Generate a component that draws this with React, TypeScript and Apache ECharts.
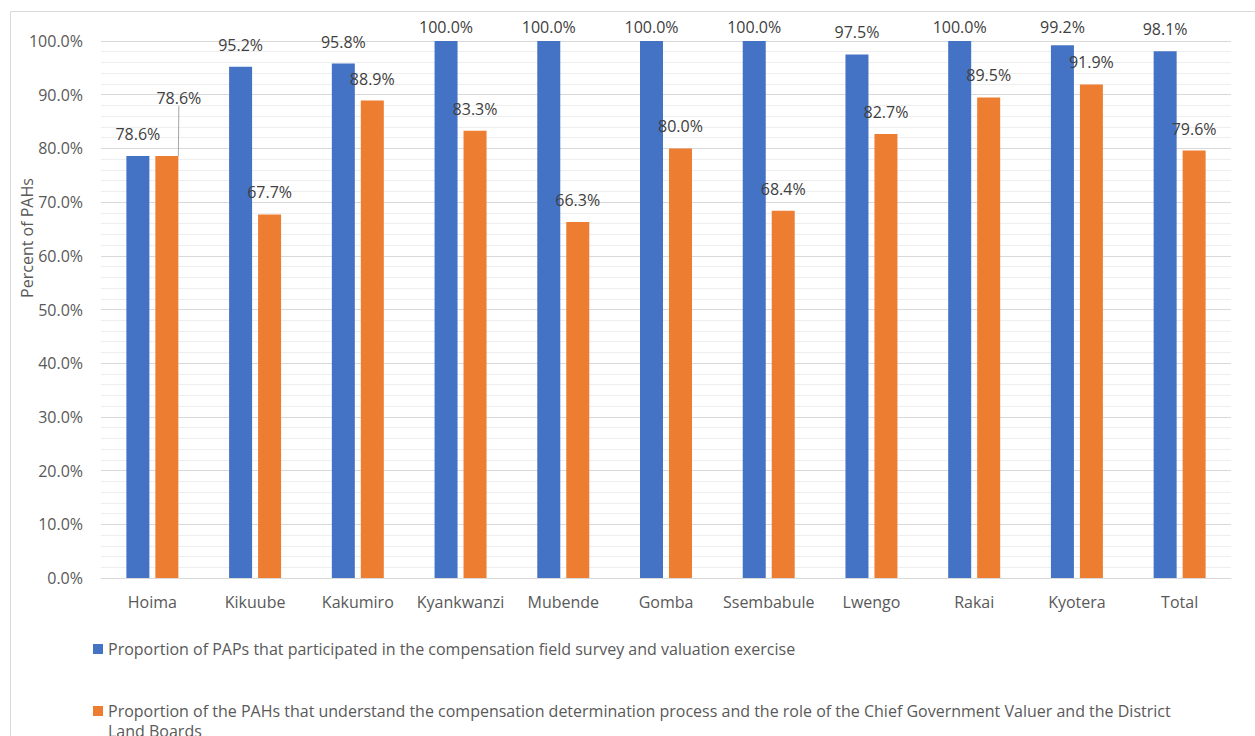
import React, { useEffect, useRef } from "react";
import * as echarts from "echarts";

// District categories along the x axis
const districts = [
  "Hoima",
  "Kikuube",
  "Kakumiro",
  "Kyankwanzi",
  "Mubende",
  "Gomba",
  "Ssembabule",
  "Lwengo",
  "Rakai",
  "Kyotera",
  "Total",
];

// Percent of PAPs that took part in the field survey and valuation exercise
const participated = [78.6, 95.2, 95.8, 100.0, 100.0, 100.0, 100.0, 97.5, 100.0, 99.2, 98.1];

// Percent of PAHs that understand the compensation determination process
const understand = [78.6, 67.7, 88.9, 83.3, 66.3, 80.0, 68.4, 82.7, 89.5, 91.9, 79.6];

const seriesNames = [
  "Proportion of PAPs that participated in the compensation field survey and valuation exercise",
  "Proportion of the PAHs that understand the compensation determination process and the role of the Chief Government Valuer and the District Land Boards",
];

const yTicks = { min: 0, max: 100, interval: 10 };

const FONT = "'Open Sans', sans-serif";
const FS = 16;
const AXIS_TEXT = "#595959";
const LABEL_TEXT = "#404040";
const GRID = { left: 101, top: 41, width: 1130, height: 537 };

export default function App() {
  const ref = useRef<HTMLDivElement>(null);

  useEffect(() => {
    if (!ref.current) return;
    const chart = echarts.init(ref.current, undefined, { renderer: "svg" });

    // keep value labels from rising above the plot frame
    const labelCeiling = GRID.top - 22;
    const clampLayout = (p: any) => {
      const r = p.labelRect;
      return { dy: Math.max(0, labelCeiling - r.y) };
    };

    const labelStyle = {
      show: true,
      position: "top" as const,
      distance: 14,
      fontFamily: FONT,
      fontSize: FS,
      color: LABEL_TEXT,
      formatter: (p: any) => `${Number(p.value).toFixed(1)}%`,
    };

    const legendText = { color: AXIS_TEXT, fontSize: FS, fontFamily: FONT, lineHeight: 20 };

    chart.setOption({
      animation: false,
      backgroundColor: "#ffffff",
      textStyle: { fontFamily: FONT },
      grid: { ...GRID, containLabel: false },
      xAxis: {
        type: "category",
        data: districts,
        axisLine: { show: true, lineStyle: { color: "#d9d9d9", width: 1 } },
        axisTick: { show: false },
        axisLabel: { color: AXIS_TEXT, fontSize: FS, fontFamily: FONT, margin: 16, interval: 0 },
      },
      yAxis: {
        type: "value",
        min: yTicks.min,
        max: yTicks.max,
        interval: yTicks.interval,
        axisLine: { show: false },
        axisTick: { show: false },
        axisLabel: {
          color: AXIS_TEXT,
          fontSize: FS,
          fontFamily: FONT,
          margin: 18,
          formatter: (v: number) => `${v.toFixed(1)}%`,
        },
        splitLine: { show: true, lineStyle: { color: "#d9d9d9", width: 1 } },
        minorTick: { show: false, splitNumber: 5 },
        minorSplitLine: { show: true, lineStyle: { color: "#eeeeee", width: 1 } },
      },
      legend: [
        {
          data: [seriesNames[0]],
          orient: "vertical",
          left: 93,
          top: 639,
          padding: 0,
          itemWidth: 10,
          itemHeight: 10,
          icon: "rect",
          selectedMode: false,
          textStyle: legendText,
        },
        {
          data: [seriesNames[1]],
          orient: "vertical",
          left: 93,
          top: 681,
          padding: 0,
          itemWidth: 10,
          itemHeight: 10,
          icon: "rect",
          selectedMode: false,
          // a leading blank line keeps the swatch beside the first line of the wrapped text
          formatter: (name: string) => "\n" + name.replace(" Land Boards", "\nLand Boards"),
          textStyle: legendText,
        },
      ],
      graphic: [
        {
          type: "rect",
          silent: true,
          shape: { x: 10.5, y: 11.5, width: 1400, height: 900 },
          style: { fill: "none", stroke: "#d9d9d9", lineWidth: 1 },
        },
        {
          type: "text",
          x: 27,
          y: 238,
          rotation: Math.PI / 2,
          style: {
            text: "Percent of PAHs",
            fill: AXIS_TEXT,
            fontSize: FS,
            fontFamily: FONT,
            align: "center",
            verticalAlign: "middle",
          },
        },
      ],
      series: [
        {
          name: seriesNames[0],
          type: "bar",
          data: participated,
          barWidth: 23,
          barGap: "26%",
          itemStyle: { color: "#4472C4" },
          label: labelStyle,
          labelLayout: clampLayout,
        },
        {
          name: seriesNames[1],
          type: "bar",
          data: understand.map((v, i) =>
            i === 0
              ? { value: v, labelLine: { show: true, lineStyle: { color: "#a6a6a6", width: 1 } } }
              : v
          ),
          barWidth: 23,
          barGap: "26%",
          itemStyle: { color: "#ED7D31" },
          label: labelStyle,
          labelLine: { show: false, smooth: false },
          labelLayout: (p: any) => {
            if (p.dataIndex === 0) return { dx: 12, dy: -36 };
            return clampLayout(p);
          },
        },
      ],
    });

    return () => chart.dispose();
  }, []);

  return (
    <div
      ref={ref}
      style={{ position: "fixed", left: 0, top: 0, width: 1255, height: 736, background: "#fff" }}
    />
  );
}
